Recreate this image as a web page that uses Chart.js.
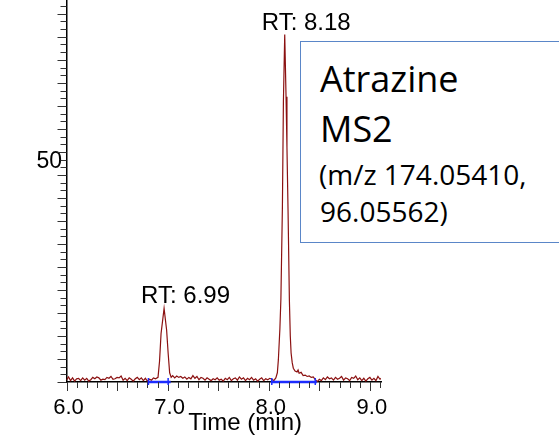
<!DOCTYPE html>
<html>
<head>
<meta charset="utf-8">
<script src="https://cdn.jsdelivr.net/npm/chart.js@4.4.1/dist/chart.umd.min.js"></script>
<style>
	html, body { margin: 0; padding: 0; background: #fff; }
	#wrap { position: relative; width: 559px; height: 435px; overflow: hidden; }
	#chromato { position: absolute; left: 0; top: 0; }
	.note { position: absolute; left: 300px; top: 41px; width: 320px; height: 201.5px;
		box-sizing: border-box; border: 1.5px solid #5a86c8; background: #fff; }
	.nl { position: absolute; font-family: "Open Sans", sans-serif; color: #000; white-space: nowrap; }
	.big { font-size: 36px; line-height: 36px; }
	.small { font-size: 28px; line-height: 28px; }
</style>
</head>
<body>
<div id="wrap">
	<canvas id="chromato" width="559" height="435"></canvas>
	<div class="note"></div>
	<div class="nl big" style="left:320px; top:60.7px;">Atrazine</div>
	<div class="nl big" style="left:320px; top:110.7px;">MS2</div>
	<div class="nl small" style="left:319px; top:160.1px;">(m/z 174.05410,</div>
	<div class="nl small" style="left:320px; top:196.8px;">96.05562)</div>
</div>
<script>
// retention time (min) / relative abundance
var times = [
	6.00, 6.02, 6.04, 6.06, 6.08, 6.10, 6.12, 6.14, 6.16, 6.18,
	6.20, 6.22, 6.24, 6.26, 6.28, 6.30, 6.32, 6.34, 6.36, 6.38,
	6.40, 6.42, 6.44, 6.46, 6.48, 6.50, 6.52, 6.54, 6.56, 6.58,
	6.60, 6.62, 6.64, 6.66, 6.68, 6.70, 6.72, 6.74, 6.76, 6.78,
	6.80, 6.82, 6.84, 6.86, 6.88, 6.905, 6.92, 6.935, 6.965, 6.99,
	7.005, 7.02, 7.035, 7.05, 7.07, 7.09, 7.11, 7.13, 7.15, 7.17,
	7.19, 7.21, 7.23, 7.25, 7.27, 7.29, 7.31, 7.33, 7.35, 7.37,
	7.39, 7.41, 7.43, 7.45, 7.47, 7.49, 7.51, 7.53, 7.55, 7.57,
	7.59, 7.61, 7.63, 7.65, 7.67, 7.69, 7.71, 7.73, 7.75, 7.77,
	7.79, 7.81, 7.83, 7.85, 7.87, 7.89, 7.91, 7.93, 7.95, 7.97,
	7.99, 8.01, 8.03, 8.05, 8.07, 8.085, 8.095, 8.11, 8.12, 8.135,
	8.145, 8.158, 8.171, 8.18, 8.191, 8.204, 8.213, 8.221, 8.232, 8.243,
	8.26, 8.28, 8.29, 8.30, 8.32, 8.34, 8.36, 8.38, 8.40, 8.42,
	8.44, 8.46, 8.48, 8.50, 8.52, 8.54, 8.56, 8.58, 8.60, 8.62,
	8.64, 8.66, 8.68, 8.70, 8.72, 8.74, 8.76, 8.78, 8.80, 8.82,
	8.84, 8.86, 8.88, 8.90, 8.92, 8.94, 8.96, 8.98, 9.00, 9.02,
	9.04, 9.06, 9.08, 9.10, 9.12
];
var abundance = [
	0.4, 1.1, 0.3, 0.9, 0.2, 0.7, 0.8, 0.3, 0.9, 0.4,
	0.8, 0.2, 0.5, 1.0, 0.7, 1.1, 0.9, 0.4, 0.6, 0.5,
	1.0, 0.8, 1.2, 0.6, 0.7, 1.0, 0.9, 1.3, 0.4, 0.8,
	0.3, 0.9, 0.6, 0.2, 0.7, 1.0, 0.5, 0.9, 0.3, 0.8,
	0.2, 0.6, 0.4, 0.9, 0.7, 1.0, 4.5, 10.5, 16.0, 11.3,
	6.3, 2.0, 1.0, 1.4, 0.9, 1.3, 1.0, 1.2, 0.8, 1.1,
	0.6, 1.0, 0.7, 1.4, 0.8, 1.2, 0.5, 1.0, 0.8, 0.4,
	0.9, 0.6, 0.3, 0.7, 0.5, 0.9, 0.4, 0.6, 0.2, 0.8,
	0.5, 1.0, 0.3, 0.7, 0.9, 0.4, 1.1, 0.6, 0.9, 0.3,
	0.8, 0.5, 1.0, 0.4, 0.7, 0.2, 0.6, 0.9, 0.3, 0.7,
	0.5, 0.8, 0.6, 0.3, 0.9, 2.0, 4.8, 11.5, 18.0, 38.0,
	61.0, 75.5, 62.0, 51.0, 37.0, 17.8, 10.0, 6.3, 4.2, 3.0,
	2.4, 2.2, 2.6, 1.9, 2.1, 1.4, 1.5, 1.2, 1.3, 1.0,
	1.1, 0.5, 0.1, 0.6, 0.3, 0.9, 0.5, 1.1, 0.7, 0.9,
	0.4, 1.0, 0.6, 0.8, 1.2, 0.4, 0.9, 0.7, 0.3, 1.0,
	0.8, 1.3, 0.5, 0.9, 0.3, 0.8, 0.2, 0.7, 1.0, 0.4,
	0.8, 0.3, 1.2, 0.6, 0.9
];

// peak labels, anchored on the apex point
var rtLabels = ['RT: 6.99', 'RT: 8.18'];
var rtApex = [6.965, 8.158];

// integration baselines (blue) and their start/end markers
var baseStart = [6.81, 8.02];
var baseEnd = [7.03, 8.475];
var baseMarks = [6.81, 7.005, 8.03, 8.46];

var xTickValues = [6, 7, 8, 9];
var yTickValues = [50];
var xMin = 6.0, xMax = 9.11, yMin = 0, yMax = 83;
var xMinorStep = 0.1, yMinorStep = 5 / 3;

var trace = [];
for (var t = 0; t < times.length && t < abundance.length; t++) {
	trace.push({ x: times[t], y: abundance[t] });
}

var datasets = [{
	data: trace,
	borderColor: '#8b1111',
	borderWidth: 1.2,
	pointRadius: 0,
	tension: 0,
	order: 2
}];
for (var b = 0; b < baseStart.length; b++) {
	datasets.push({
		data: [{ x: baseStart[b], y: 0 }, { x: baseEnd[b], y: 0 }],
		borderColor: '#1c2cff',
		borderWidth: 2.5,
		pointRadius: 0,
		clip: false,
		order: 1
	});
}

var decorations = {
	id: 'decorations',
	afterDraw: function(chart) {
		var ctx = chart.ctx, x = chart.scales.x, y = chart.scales.y, area = chart.chartArea;
		ctx.save();
		ctx.lineWidth = 1;
		ctx.strokeStyle = '#333';

		// y minor / major ticks
		for (var i = 0; i * yMinorStep <= yMax + 0.001; i++) {
			var py = Math.round(y.getPixelForValue(i * yMinorStep)) + 0.5;
			var len = (i % 3 === 0) ? 9 : 6;
			ctx.beginPath();
			ctx.moveTo(area.left - len, py);
			ctx.lineTo(area.left, py);
			ctx.stroke();
		}
		// x minor / major ticks
		for (var j = 0; xMin + j * xMinorStep <= xMax + 0.001; j++) {
			var px = Math.round(x.getPixelForValue(xMin + j * xMinorStep)) + 0.5;
			var l = (j % 5 === 0) ? 9 : 6;
			ctx.beginPath();
			ctx.moveTo(px, area.bottom);
			ctx.lineTo(px, area.bottom + l);
			ctx.stroke();
		}

		// integration markers
		ctx.strokeStyle = '#1c2cff';
		ctx.lineWidth = 1.5;
		for (var m = 0; m < baseMarks.length; m++) {
			var mx = x.getPixelForValue(baseMarks[m]);
			var my = y.getPixelForValue(0);
			ctx.beginPath();
			ctx.moveTo(mx, my - 4);
			ctx.lineTo(mx, my + 3);
			ctx.stroke();
		}

		// RT labels
		ctx.fillStyle = '#000';
		ctx.font = '24px "Liberation Sans", Arial, sans-serif';
		ctx.textAlign = 'left';
		ctx.textBaseline = 'alphabetic';
		for (var r = 0; r < rtLabels.length; r++) {
			var k = times.indexOf(rtApex[r]);
			var ax = x.getPixelForValue(times[k]);
			var ay = y.getPixelForValue(abundance[k]);
			ctx.fillText(rtLabels[r], ax - 23, ay - 5);
		}

		// axis title
		ctx.textAlign = 'center';
		ctx.fillText('Time (min)', area.left + 0.568 * (area.right - area.left), area.bottom + 48);
		ctx.restore();
	}
};

new Chart(document.getElementById('chromato'), {
	type: 'line',
	data: { datasets: datasets },
	options: {
		responsive: false,
		animation: false,
		devicePixelRatio: 1,
		layout: { padding: { left: 0, right: 178, top: 0, bottom: 0 } },
		plugins: { legend: { display: false }, tooltip: { enabled: false } },
		scales: {
			x: {
				type: 'linear',
				min: xMin,
				max: xMax,
				grid: { display: false, drawTicks: false },
				border: { display: true, color: '#000', width: 1.5 },
				afterBuildTicks: function(s) {
					s.ticks = xTickValues.map(function(v) { return { value: v }; });
				},
				afterFit: function(s) {
					s.height = 53;
					s.paddingLeft = 0;
					s.paddingRight = 0;
				},
				ticks: {
					color: '#000',
					padding: 13,
					labelOffset: 2,
					maxRotation: 0,
					autoSkip: false,
					font: { family: '"Liberation Sans", Arial, sans-serif', size: 22 },
					callback: function(v) { return Number(v).toFixed(1); }
				}
			},
			y: {
				type: 'linear',
				min: yMin,
				max: yMax,
				grid: { display: false, drawTicks: false },
				border: { display: true, color: '#000', width: 1.5 },
				afterBuildTicks: function(s) {
					s.ticks = yTickValues.map(function(v) { return { value: v }; });
				},
				afterFit: function(s) {
					s.width = 66.5;
					s.paddingTop = 0;
					s.paddingBottom = 0;
				},
				ticks: {
					color: '#000',
					padding: 4.5,
					labelOffset: 10,
					font: { family: '"Liberation Sans", Arial, sans-serif', size: 23 },
					callback: function(v) { return String(v); }
				}
			}
		}
	},
	plugins: [decorations]
});
</script>
</body>
</html>
